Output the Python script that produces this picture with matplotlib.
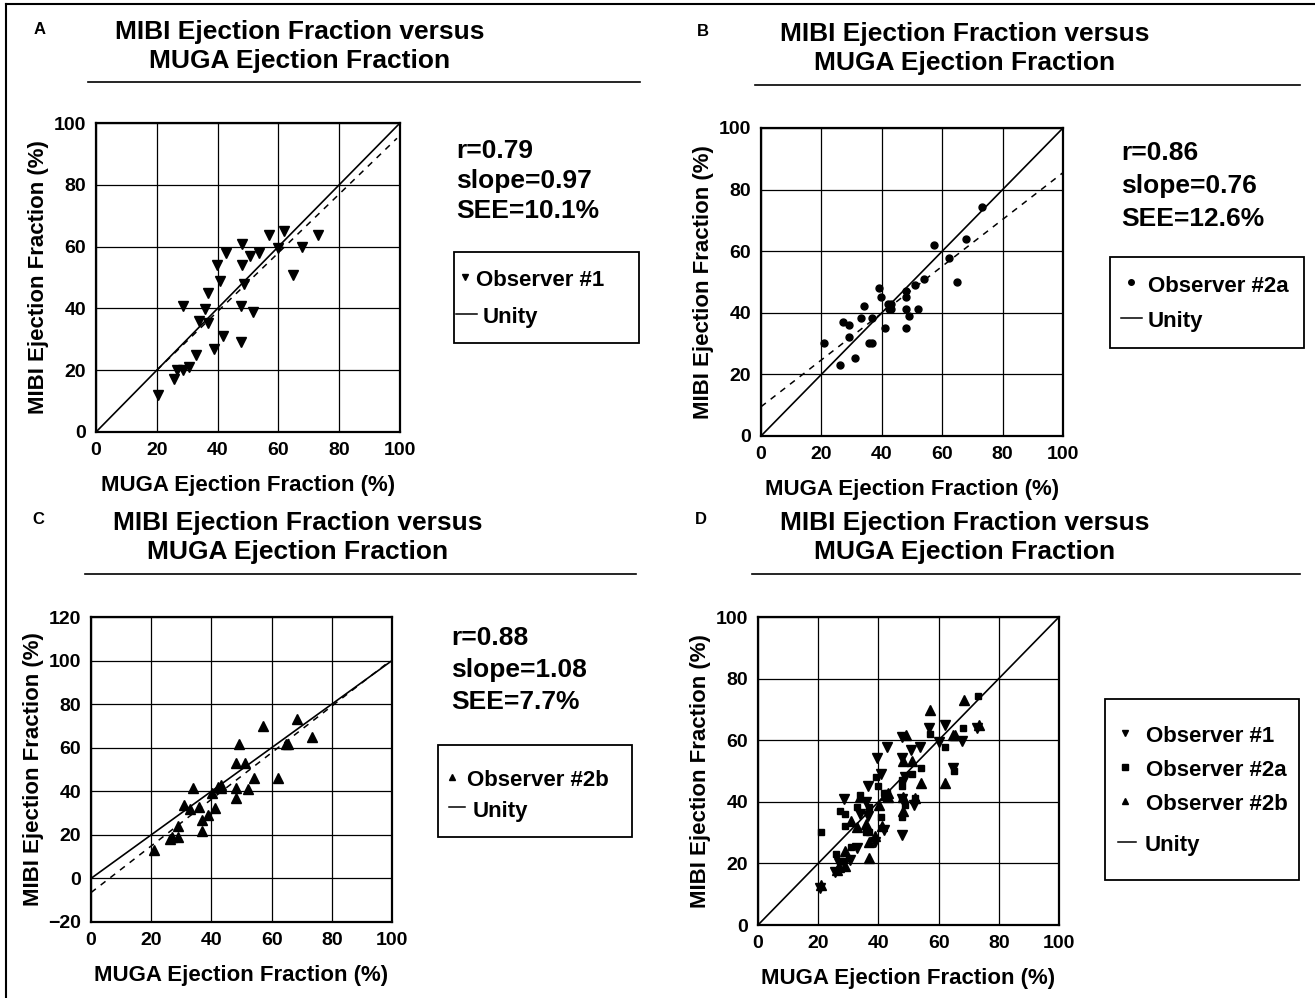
import matplotlib.pyplot as plt
from matplotlib.lines import Line2D
from matplotlib.patches import Rectangle

plt.rcParams['font.family'] = ['Liberation Sans', 'DejaVu Sans']

W, H = 1315, 998

#### D A T A

# observer #1  (panel A)
obs1_muga = [20.5, 25.7, 26.8, 28.7, 30.6, 32.8, 28.7, 33.8, 35.9, 36.7, 36.7, 38.8, 39.7, 40.8, 41.7,
             42.8, 47.7, 47.7, 47.9, 47.9, 48.7, 50.7, 51.8, 53.7, 56.9, 60.0, 62.0, 64.9, 67.9, 72.9]
obs1_mibi = [12.0, 17.1, 20.1, 20.1, 21.0, 25.0, 40.8, 35.9, 39.9, 45.1, 35.3, 26.8, 54.1, 48.9, 31.0,
             57.9, 29.1, 40.8, 54.1, 60.9, 48.0, 56.8, 38.9, 57.8, 63.9, 59.5, 64.9, 50.9, 59.8, 63.8]

# observer #2a  (panel B)
obs2a_muga = [20.9, 26.0, 27.1, 29.0, 29.0, 31.0, 33.0, 34.0, 35.9, 36.9, 36.9, 39.2, 39.9, 41.0, 41.9, 42.4,
              43.0, 43.0, 47.9, 47.9, 47.9, 47.9, 48.9, 51.0, 52.0, 54.0, 57.2, 62.1, 65.0, 68.0, 73.1]
obs2a_mibi = [30.1, 23.2, 37.1, 36.2, 32.1, 25.2, 38.2, 42.1, 30.1, 30.1, 38.2, 48.0, 45.0, 35.1, 43.0, 41.1,
              43.0, 41.1, 47.0, 45.0, 41.1, 35.1, 39.1, 48.9, 41.1, 51.0, 62.0, 57.9, 50.0, 64.0, 74.2]

# observer #2b  (panel C)
obs2b_muga = [21.0, 26.1, 26.8, 28.9, 29.0, 31.0, 33.0, 34.0, 36.0, 37.0, 37.0, 39.0, 40.1, 41.1, 42.3,
              43.1, 43.2, 48.1, 48.1, 48.1, 49.2, 51.2, 52.1, 54.1, 57.3, 62.1, 64.7, 65.3, 68.3, 73.3]
obs2b_mibi = [13.1, 18.0, 18.8, 19.2, 24.1, 33.9, 31.8, 41.7, 32.7, 26.9, 21.8, 29.0, 39.1, 32.1, 42.1,
              42.9, 41.4, 41.7, 37.1, 53.1, 61.8, 53.1, 41.1, 46.0, 69.9, 46.0, 61.7, 61.7, 73.0, 65.0]

# regression lines drawn dashed (A, B, C)
fit_slope = [0.95, 0.76, 1.07]
fit_intercept = [1.0, 9.5, -6.5]
fit_range = [(20, 99), (0, 100), (0, 98)]

stats_r = ['0.79', '0.86', '0.88']
stats_slope = ['0.97', '0.76', '1.08']
stats_see = ['10.1%', '12.6%', '7.7%']

yticks_100 = [0, 20, 40, 60, 80, 100]
yticks_120 = [-20, 0, 20, 40, 60, 80, 100, 120]
xticks = [0, 20, 40, 60, 80, 100]


def fx(x):
    return x / W


def fy(y):
    return 1 - y / H


def make_axes(fig, left, top, right, bottom):
    return fig.add_axes([fx(left), fy(bottom), fx(right - left), (bottom - top) / H])


def style(ax, ylo, yhi, yticks):
    ax.set_xlim(0, 100)
    ax.set_ylim(ylo, yhi)
    ax.set_xticks(xticks)
    ax.set_yticks(yticks)
    ax.grid(True, color='black', linewidth=0.9)
    ax.set_axisbelow(True)
    ax.tick_params(length=0, labelsize=14, pad=7)
    for lbl in ax.get_xticklabels() + ax.get_yticklabels():
        lbl.set_fontweight('bold')
    for sp in ax.spines.values():
        sp.set_linewidth(1.6)
    ax.set_xlabel('MUGA Ejection Fraction (%)', fontsize=16, fontweight='bold')
    ax.set_ylabel('MIBI Ejection Fraction (%)', fontsize=16, fontweight='bold')
    ax.xaxis.set_label_coords(0.5, -0.14)
    ax.yaxis.set_label_coords(-0.155, 0.5)
    ax.plot([0, 100], [0, 100], color='black', linewidth=1.2)


def dashed_fit(ax, i):
    x0, x1 = fit_range[i]
    ax.plot([x0, x1], [fit_slope[i] * x0 + fit_intercept[i], fit_slope[i] * x1 + fit_intercept[i]],
            color='black', linestyle=(0, (4, 4)), linewidth=1.1)


def header(fig, letter, lx, ly, cx, ty, ux0, ux1, uy):
    fig.text(fx(lx), fy(ly), letter, fontsize=12, fontweight='bold', ha='center', va='center')
    fig.text(fx(cx), fy(ty), 'MIBI Ejection Fraction versus', fontsize=19, fontweight='bold',
             ha='center', va='center')
    fig.text(fx(cx), fy(ty + 29), 'MUGA Ejection Fraction', fontsize=19, fontweight='bold',
             ha='center', va='center')
    fig.add_artist(Line2D([fx(ux0), fx(ux1)], [fy(uy), fy(uy)], color='black', linewidth=1.2))


def stats(fig, i, x, ys):
    lines = ['r=' + stats_r[i], 'slope=' + stats_slope[i], 'SEE=' + stats_see[i]]
    for t, y in zip(lines, ys):
        fig.text(fx(x), fy(y), t, fontsize=19, fontweight='bold', ha='left', va='center')


def legend_box(fig, box, entries, unity_y, mx, tx, ux0, ux1, utx):
    # box = (left, top, right, bottom) in pixels; entries = [(marker, label, y), ...]
    l, t, r, b = box
    fig.add_artist(Rectangle((fx(l), fy(b)), fx(r - l), (b - t) / H, transform=fig.transFigure,
                             facecolor='white', edgecolor='black', linewidth=1.3))
    for mk, label, y in entries:
        fig.add_artist(Line2D([fx(mx)], [fy(y - 4)], marker=mk, color='black', markersize=4,
                              linestyle='none'))
        fig.text(fx(tx), fy(y), label, fontsize=16, fontweight='bold', ha='left', va='center')
    fig.add_artist(Line2D([fx(ux0), fx(ux1)], [fy(unity_y - 4), fy(unity_y - 4)], color='black',
                          linewidth=1.1))
    fig.text(fx(utx), fy(unity_y), 'Unity', fontsize=16, fontweight='bold', ha='left', va='center')


fig = plt.figure(figsize=(W / 100, H / 100), dpi=100)

# frame of the scanned page
fig.add_artist(Line2D([fx(6), fx(W)], [fy(4), fy(4)], color='black', linewidth=1.5))
fig.add_artist(Line2D([fx(6), fx(6)], [fy(4), fy(H)], color='black', linewidth=1.5))

# ---- A
axA = make_axes(fig, 96, 123, 400, 432)
style(axA, 0, 100, yticks_100)
axA.plot(obs1_muga, obs1_mibi, 'v', color='black', markersize=6.5)
dashed_fit(axA, 0)
header(fig, 'A', 40, 30, 300, 32, 88, 640, 82)
stats(fig, 0, 456, [151, 181, 211])
legend_box(fig, (454, 252, 639, 343), [('v', 'Observer #1', 281)], 318, 465, 476, 456, 477, 483)

# ---- B
axB = make_axes(fig, 761, 128, 1063, 436)
style(axB, 0, 100, yticks_100)
axB.plot(obs2a_muga, obs2a_mibi, 'o', color='black', markersize=5)
dashed_fit(axB, 1)
header(fig, 'B', 703, 32, 965, 34, 755, 1300, 85)
stats(fig, 1, 1121, [153, 186, 219])
legend_box(fig, (1110, 257, 1304, 348), [('o', 'Observer #2a', 286)], 322, 1131, 1148, 1121, 1142, 1148)

# ---- C
axC = make_axes(fig, 91, 617, 392, 922)
style(axC, -20, 120, yticks_120)
axC.plot(obs2b_muga, obs2b_mibi, '^', color='black', markersize=6.5)
dashed_fit(axC, 2)
header(fig, 'C', 38, 520, 298, 523, 85, 636, 574)
stats(fig, 2, 451, [638, 670, 702])
legend_box(fig, (438, 745, 632, 837), [('^', 'Observer #2b', 781)], 811, 452, 467, 449, 465, 473)

# ---- D  (all observers pooled)
axD = make_axes(fig, 758, 617, 1059, 925)
style(axD, 0, 100, yticks_100)
axD.plot(obs1_muga, obs1_mibi, 'v', color='black', markersize=6.5)
axD.plot(obs2a_muga, obs2a_mibi, 's', color='black', markersize=5)
axD.plot(obs2b_muga, obs2b_mibi, '^', color='black', markersize=6.5)
header(fig, 'D', 701, 520, 965, 523, 752, 1300, 574)
legend_box(fig, (1105, 699, 1299, 880),
           [('v', 'Observer #1', 737), ('s', 'Observer #2a', 771), ('^', 'Observer #2b', 805)],
           846, 1125, 1146, 1118, 1136, 1145)

fig.savefig('out.png', dpi=100)
